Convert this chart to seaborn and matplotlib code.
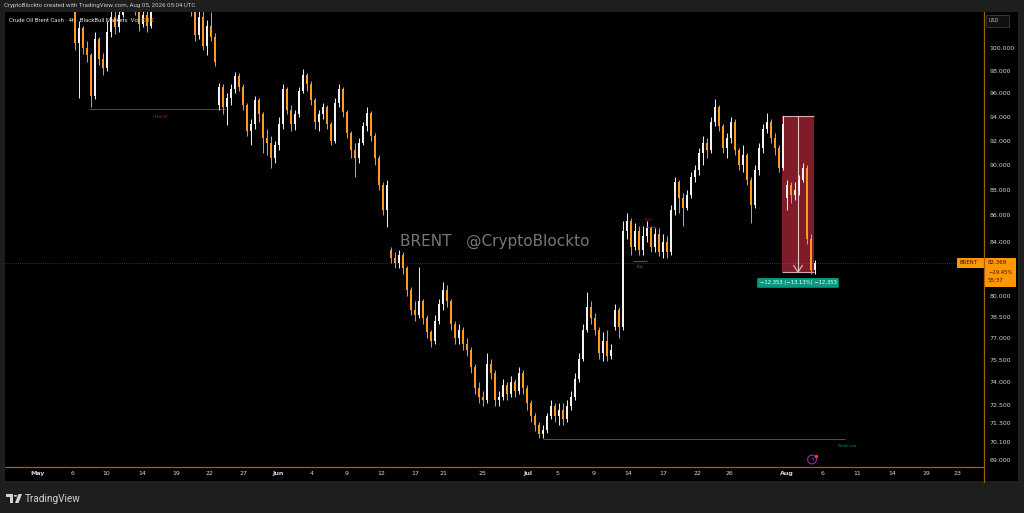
import numpy as np
import pandas as pd
import matplotlib
matplotlib.use('Agg')
import matplotlib.pyplot as plt
import seaborn as sns
from matplotlib.patches import Rectangle, Circle, Polygon
from matplotlib.lines import Line2D
from matplotlib.ticker import NullLocator

# 4h candles, Brent (one value per candle)
closes = [100.5, 101.8, 100.0, 99.4, 95.8, 100.8, 99.0, 98.2, 101.5, 102.8,
          101.9, 103.0, 104.5, 105.8, 105.0, 103.6, 102.2, 103.0, 102.0, 103.8,
          105.0, 106.2, 107.0, 106.4, 107.5, 106.8, 105.6, 106.0, 104.6, 103.6,
          101.2, 102.8, 100.2, 102.0, 101.0, 98.8, 96.6, 94.8, 95.6, 96.4,
          97.5, 96.6, 95.0, 92.8, 93.4, 95.4, 94.2, 92.2, 91.8, 90.6,
          91.6, 93.4, 96.4, 94.6, 93.4, 94.2, 96.2, 97.6, 96.8, 95.4,
          93.6, 94.2, 94.8, 93.4, 92.0, 95.2, 96.4, 94.4, 92.6, 91.2,
          90.6, 91.8, 93.2, 94.3, 92.4, 90.6, 88.4, 86.4, 88.4, 82.8,
          82.4, 83.0, 82.0, 80.4, 79.0, 78.6, 79.6, 78.4, 77.4, 76.8,
          78.2, 79.4, 80.4, 79.6, 78.0, 77.0, 77.6, 76.6, 76.2, 75.0,
          73.6, 73.0, 72.8, 75.2, 74.6, 72.8, 73.0, 73.8, 73.2, 74.0,
          73.4, 74.6, 73.6, 72.6, 71.8, 71.2, 70.6, 70.9, 71.8, 72.4,
          71.8, 72.2, 71.6, 72.4, 73.0, 74.2, 75.6, 77.6, 79.2, 78.4,
          77.6, 76.0, 76.8, 75.8, 76.2, 79.0, 77.8, 84.8, 85.6, 83.6,
          84.8, 83.4, 84.4, 85.0, 83.6, 84.6, 83.2, 84.0, 83.2, 86.4,
          88.6, 87.4, 86.6, 87.6, 89.0, 89.6, 91.0, 91.8, 91.2, 93.6,
          94.8, 93.2, 91.4, 92.2, 93.6, 91.2, 90.0, 90.8, 88.8, 86.8,
          89.6, 91.4, 93.0, 93.6, 92.2, 91.4, 89.8, 93.4, 88.4, 87.6,
          88.0, 88.8, 89.8, 84.2, 81.9, 82.369]
highs = [105.2, 102.5, 102.0, 100.6, 99.6, 101.5, 101.0, 99.6, 102.5, 103.4,
         103.5, 104.0, 105.2, 106.3, 106.5, 105.4, 104.0, 103.8, 103.6, 104.5,
         105.8, 106.8, 107.8, 107.6, 108.2, 108.0, 107.2, 106.6, 106.4, 105.0,
         104.2, 103.6, 103.4, 102.6, 103.3, 101.4, 96.9, 96.8, 96.0, 96.8,
         97.9, 97.8, 96.8, 95.2, 93.8, 95.8, 95.6, 94.4, 93.0, 92.4,
         92.0, 94.0, 96.8, 96.6, 95.0, 94.6, 96.6, 98.1, 97.8, 97.1,
         95.6, 94.6, 95.2, 95.0, 93.6, 95.6, 96.8, 96.6, 94.6, 92.8,
         91.8, 92.2, 93.6, 94.8, 94.5, 92.6, 90.8, 88.6, 88.8, 83.6,
         83.2, 83.4, 83.2, 82.2, 80.6, 79.6, 82.1, 79.8, 78.6, 77.6,
         78.6, 79.8, 81.0, 80.8, 79.8, 78.2, 78.0, 77.8, 77.0, 76.4,
         75.2, 74.0, 73.4, 76.0, 75.6, 74.8, 73.4, 74.2, 74.0, 74.4,
         74.2, 75.0, 74.8, 73.8, 72.8, 72.0, 71.4, 71.2, 72.0, 72.8,
         72.6, 72.6, 72.6, 72.8, 73.4, 74.6, 76.0, 78.0, 80.3, 79.6,
         78.8, 77.8, 77.4, 77.6, 76.6, 79.4, 79.2, 85.6, 86.2, 85.8,
         85.4, 85.2, 85.2, 85.6, 85.2, 85.0, 85.0, 84.6, 84.4, 86.8,
         89.0, 88.8, 87.8, 88.0, 89.4, 90.0, 91.4, 92.4, 92.2, 94.0,
         95.5, 95.0, 93.4, 92.6, 94.0, 93.8, 91.4, 91.6, 91.0, 89.0,
         90.0, 91.8, 93.4, 94.3, 93.8, 92.6, 91.6, 94.1, 88.8, 88.6,
         88.6, 89.2, 90.2, 90.0, 84.6, 82.6]
lows = [99.8, 95.6, 99.5, 98.8, 94.8, 95.5, 98.5, 97.6, 98.0, 101.0,
        101.3, 101.5, 102.8, 104.0, 104.2, 103.0, 101.6, 101.9, 101.5, 101.8,
        103.5, 104.6, 105.8, 105.6, 106.0, 106.0, 105.0, 104.8, 104.0, 102.9,
        100.6, 100.8, 99.8, 99.4, 100.6, 98.4, 94.6, 94.2, 93.3, 95.0,
        96.0, 96.2, 94.6, 92.4, 91.6, 93.0, 93.6, 91.0, 90.8, 89.8,
        90.2, 91.2, 93.0, 94.2, 92.8, 92.9, 94.0, 96.0, 96.2, 95.0,
        93.0, 92.8, 93.8, 93.0, 91.6, 91.8, 94.8, 94.0, 92.2, 90.6,
        89.0, 90.2, 91.6, 92.8, 92.0, 90.0, 88.0, 86.0, 85.1, 82.4,
        82.0, 82.0, 81.6, 80.0, 78.6, 78.2, 78.4, 78.0, 77.0, 76.4,
        76.6, 78.0, 79.0, 79.2, 77.6, 76.6, 76.6, 76.2, 75.8, 74.6,
        73.2, 72.6, 72.4, 72.6, 74.2, 72.4, 72.4, 72.8, 72.8, 73.0,
        73.0, 73.2, 73.2, 72.2, 71.4, 70.8, 70.4, 70.35, 70.7, 71.6,
        71.4, 71.2, 71.2, 71.4, 72.2, 72.8, 74.0, 75.4, 77.4, 78.0,
        77.2, 75.6, 75.4, 75.4, 75.6, 77.6, 77.0, 77.6, 84.2, 83.0,
        83.4, 83.0, 83.0, 84.0, 83.2, 83.2, 82.9, 82.8, 82.8, 83.0,
        86.0, 86.2, 85.2, 86.4, 87.4, 88.6, 89.2, 90.0, 90.6, 91.0,
        93.2, 92.8, 91.0, 90.6, 91.8, 90.8, 89.6, 89.4, 88.4, 85.4,
        86.6, 89.2, 91.0, 92.6, 91.8, 90.8, 89.4, 89.6, 86.4, 87.0,
        87.2, 87.6, 88.6, 83.8, 81.6, 81.6]
first_open = 104.8
gap_opens = {36: 95.0, 79: 83.4, 135: 77.8, 178: 87.4}   # weekend gaps

# x-axis dates: label and the candle slot where it falls
tick_labels = ['May', '6', '10', '14', '19', '22', '27', 'Jun', '4', '9', '12', '17', '21', '25',
               'Jul', '5', '9', '14', '17', '22', '26', 'Aug', '6', '11', '14', '19', '23']
tick_bar = [-9.25, -0.5, 7.75, 16.75, 25.25, 33.75, 42, 50.75, 59.25, 68, 76.5, 85, 92, 101.75,
            113.25, 120.75, 129.75, 138.25, 147, 155.5, 163.5, 178, 187, 195.5, 204.25, 212.75, 220.75]
price_ticks = [100, 98, 96, 94, 92, 90, 88, 86, 84, 80, 78.5, 77, 75.5, 74, 72.5, 71.3, 70.1, 69]

last_price = 82.369
move_from, move_to = 94.08, 81.727
choch_level = 94.7
weak_low = 70.3

bull = '#f2f2f2'
bear = '#ff9a1f'
edge_orange = '#a0620c'

df = pd.DataFrame({'close': closes, 'high': highs, 'low': lows})
df['open'] = df['close'].shift(1)
df.loc[0, 'open'] = first_open
for k, v in gap_opens.items():
    df.loc[k, 'open'] = v
df['x'] = np.arange(len(df))
df['color'] = np.where(df['close'] >= df['open'], bull, bear)
body_lo = df[['open', 'close']].min(axis=1)
body_hi = df[['open', 'close']].max(axis=1)

sns.set_style('dark', rc={'axes.facecolor': 'black', 'figure.facecolor': '#1e1e1e'})
plt.rcParams['font.family'] = ['DejaVu Sans']

W, H = 1024, 513
fig = plt.figure(figsize=(W / 100, H / 100), dpi=100)


def fx(px):
    return px / W


def fy(py):
    return 1 - py / H


# black panes for time axis and price axis
fig.add_artist(Rectangle((fx(5), fy(481)), fx(979), 15 / H, transform=fig.transFigure,
                         fc='black', ec='none', zorder=0))
fig.add_artist(Rectangle((fx(984), fy(481)), fx(34), 469 / H, transform=fig.transFigure,
                         fc='black', ec='none', zorder=0))

ax = fig.add_axes([fx(5), fy(466), fx(979), 454 / H])
ax.set_facecolor('black')
ax.set_yscale('log')
ax.set_ylim(68.62, 103.31)
ax.set_xlim(-17.5, 227.25)
ax.grid(False)
for s in ax.spines.values():
    s.set_visible(False)

# candles
ax.vlines(df['x'], np.minimum(df['low'], body_lo), np.maximum(df['high'], body_hi),
          colors=df['color'], linewidth=0.7, zorder=3)
ax.bar(df['x'], np.maximum(body_hi - body_lo, 0.05), bottom=body_lo, width=0.72,
       color=df['color'], linewidth=0, zorder=4)

# price axis
ax.yaxis.tick_right()
ax.set_yticks(price_ticks)
ax.set_yticklabels([f'{t:.3f}' for t in price_ticks])
ax.yaxis.set_minor_locator(NullLocator())
ax.tick_params(axis='y', length=0, pad=4, labelsize=4.5, labelcolor='#d1d4dc')

# time axis
ax.set_xticks(tick_bar)
ax.set_xticklabels(tick_labels)
ax.tick_params(axis='x', length=0, pad=3.5, labelsize=4.5, labelcolor='#d1d4dc')
for lab in ax.get_xticklabels():
    if lab.get_text() in ('May', 'Jun', 'Jul', 'Aug'):
        lab.set_fontweight('bold')

# orange pane borders
fig.add_artist(Line2D([fx(984), fx(984)], [fy(12), fy(482)], color=edge_orange, lw=0.9))
fig.add_artist(Line2D([fx(5), fx(984)], [fy(466.5), fy(466.5)], color=edge_orange, lw=0.9))

# current price dotted line
ax.axhline(last_price, color='#9a9a9a', lw=0.5, ls=(0, (1, 2)), alpha=0.6, zorder=2)

# CHoCH
ax.hlines(choch_level, 3.5, 37.5, color='#b01a30', lw=0.8, zorder=2)
ax.text(21.25, 94.0, 'CHoCH', fontsize=3.2, color='#c2263d', ha='center', va='center')

# EQH / EQL
ax.hlines(85.1, 142.5, 145.2, color='#b01a30', lw=0.6, zorder=5)
ax.text(143.4, 85.68, 'EQH', fontsize=2.6, color='#b01a30', ha='center', va='center', zorder=5)
ax.hlines(82.57, 139.5, 143, color='#0f8f78', lw=0.6, zorder=5)
ax.text(141.3, 82.1, 'EQL', fontsize=2.6, color='#0f8f78', ha='center', va='center', zorder=5)

# weak low
ax.hlines(weak_low, 117, 192.5, color='#0b6e5f', lw=0.8, zorder=2)
ax.text(190.8, 69.85, 'Weak Low', fontsize=2.6, color='#0f8f78', ha='left', va='center')

# measuring box
x0, x1 = 176.7, 184.8
ax.add_patch(Rectangle((x0, move_to), x1 - x0, move_from - move_to, fc='#7e1c29', ec='none', zorder=1))
ax.hlines([move_from, move_to], x0, x1, color='#d9aab2', lw=0.8, zorder=2)
xm = (x0 + x1) / 2
ax.vlines(xm, move_to, move_from, color='#e6c4ca', lw=0.8, zorder=2)
ax.plot([xm - 1.1, xm, xm + 1.1], [move_to * 1.006, move_to, move_to * 1.006],
        color='#e6c4ca', lw=0.8, zorder=2)
ax.text(xm, 80.93, '\u221212.353 (\u221213.13%) \u221212,353', fontsize=3.8, color='white',
        ha='center', va='center', zorder=6,
        bbox=dict(boxstyle='round,pad=0.45,rounding_size=0.25', fc='#089981', ec='none'))

# purple icon on time line
ax.scatter([184.25], [69.02], s=40, facecolors='none', edgecolors='#9c27b0', linewidths=0.8, zorder=6)
ax.text(184.25, 69.02, '\u03df', fontsize=4, color='#b04cc4', ha='center', va='center', zorder=6)
ax.scatter([185.3], [69.27], s=2, color='#f23645', zorder=7)

# watermark
fig.text(fx(400), fy(241), 'BRENT   @CryptoBlockto', fontsize=11, color='#777777',
         ha='left', va='center')

# header texts
small = ['Roboto', 'DejaVu Sans']
fig.text(fx(4), fy(6), 'CryptoBlockto created with TradingView.com, Aug 05, 2026 05:04 UTC',
         fontsize=4.4, color='#c8c8c8', ha='left', va='center', family=small)
head = fig.text(fx(9), fy(20), 'Crude Oil Brent Cash \u00b7 4h \u00b7 BlackBull Markets  Vol',
                fontsize=4.3, color='#e0e0e0', ha='left', va='center', family=small)
fig.canvas.draw()
bb = head.get_window_extent(fig.canvas.get_renderer())
fig.text(bb.x1 / W + 1.5 / W, fy(20), '571K', fontsize=4.3, color='#ff9800',
         ha='left', va='center', family=small)

# USD box
fig.add_artist(Rectangle((fx(986), fy(27)), fx(23), 12 / H, transform=fig.transFigure,
                         fc='#101010', ec='#3a3a3a', lw=0.6))
fig.text(fx(989), fy(21), 'USD', fontsize=3.5, color='#bbbbbb', ha='left', va='center')

# last price label
fig.add_artist(Rectangle((fx(957), fy(268)), fx(27), 10 / H, transform=fig.transFigure,
                         fc='#ff9800', ec='none'))
fig.add_artist(Rectangle((fx(984), fy(287)), fx(32), 29 / H, transform=fig.transFigure,
                         fc='#ff9800', ec='none'))
fig.text(fx(960), fy(263), 'BRENT', fontsize=4.0, color='#2a1800', ha='left', va='center')
fig.text(fx(988), fy(263), '82.369', fontsize=4.0, color='#2a1800', ha='left', va='center')
fig.text(fx(988), fy(272), '\u221219.45%', fontsize=3.8, color='#2a1800', ha='left', va='center')
fig.text(fx(988), fy(281), '55:37', fontsize=4.0, color='#2a1800', ha='left', va='center')

# TradingView logo
fig.add_artist(Rectangle((fx(6), fy(497)), fx(7), 3 / H, transform=fig.transFigure, fc='#d1d4dc', ec='none'))
fig.add_artist(Rectangle((fx(10), fy(503)), fx(3), 9 / H, transform=fig.transFigure, fc='#d1d4dc', ec='none'))
fig.add_artist(Circle((fx(15.5), fy(495.8)), 1.7 / W, transform=fig.transFigure, fc='#d1d4dc', ec='none'))
fig.add_artist(Polygon([[fx(15), fy(503)], [fx(18.5), fy(503)], [fx(22), fy(494)], [fx(18.5), fy(494)]],
                       closed=True, transform=fig.transFigure, fc='#d1d4dc', ec='none'))
fig.text(fx(25), fy(498.5), 'TradingView', fontsize=7.2, color='#d1d4dc', ha='left', va='center',
         family=['Roboto', 'DejaVu Sans'])

fig.savefig('out.png', dpi=100, facecolor=fig.get_facecolor())
